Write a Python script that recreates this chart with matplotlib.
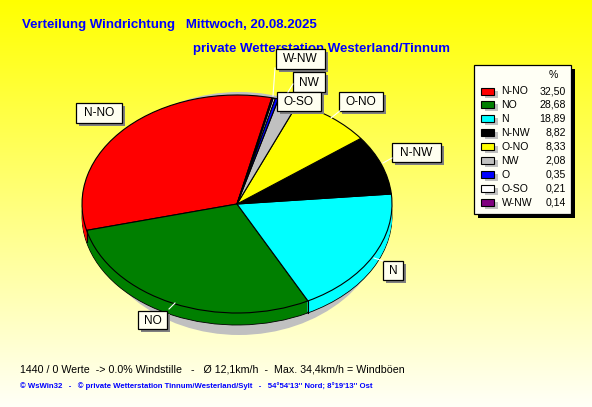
# coding: utf-8
""" wind direction pie, WsWin style """
import numpy as np
import matplotlib
matplotlib.use('Agg')
import matplotlib.pyplot as plt
from matplotlib.patches import Ellipse, Rectangle

plt.rcParams['font.family'] = ['Liberation Sans', 'DejaVu Sans']

directions = ['N-NO', 'NO', 'N', 'N-NW', 'O-NO', 'NW', 'O', 'O-SO', 'W-NW']
percent = [32.50, 28.68, 18.89, 8.82, 8.33, 2.08, 0.35, 0.21, 0.14]
value_labels = ['32,50', '28,68', '18,89', '8,82', '8,33', '2,08', '0,35', '0,21', '0,14']
colors = ['#ff0000', '#007f00', '#00ffff', '#000000', '#ffff00',
          '#c0c0c0', '#0000ff', '#ffffff', '#800080']

title_1 = 'Verteilung Windrichtung   Mittwoch, 20.08.2025'
title_2 = 'private Wetterstation Westerland/Tinnum'
info = '1440 / 0 Werte  -> 0.0% Windstille   -   Ø 12,1km/h  -  Max. 34,4km/h = Windböen'
footer = "© WsWin32   -   © private Wetterstation Tinnum/Westerland/Sylt   -   54°54'13'' Nord; 8°19'13'' Ost"

W, H = 592, 407
# pie ellipse in pixels
cx, cy, rx, ry = 237, 204, 155, 109
depth = 12
start = 77

fig = plt.figure(figsize=(W / 100, H / 100), dpi=100)

# background gradient + shadow
bg = fig.add_axes([0, 0, 1, 1])
grad = np.ones((H, 1, 3))
grad[:, 0, 2] = np.linspace(0, 0.97, H)
bg.imshow(grad, extent=(0, W, H, 0), aspect='auto', interpolation='bilinear')
bg.set_xlim(0, W)
bg.set_ylim(H, 0)
bg.axis('off')
bg.text(22, 25, title_1, color='#0000ff', fontsize=9.5, fontweight='bold', va='center')
bg.text(193, 49, title_2, color='#0000ff', fontsize=9.55, fontweight='bold', va='center')
bg.text(20, 369, info, color='black', fontsize=7.7, va='center')
bg.text(20, 386, footer, color='#0000ff', fontsize=5.55, fontweight='bold', va='center')
bg.add_patch(Ellipse((239, 213.5), 296, 243, fc='#c0c0c0', ec='none'))

# pie: unit circle is stretched to the ellipse through the axis limits
ax = fig.add_axes([0, 0, 1, 1], zorder=2)
ax.patch.set_alpha(0)
for k in range(depth, 0, -1):
    edge = 'black' if k == depth else 'none'
    ax.pie(percent, colors=colors, startangle=start, center=(0, -k / ry),
           wedgeprops={'edgecolor': edge, 'linewidth': 0.6})
ax.pie(percent, colors=colors, startangle=start,
       wedgeprops={'edgecolor': 'black', 'linewidth': 0.8})
ax.set_aspect('auto')
ax.set_xlim(-cx / rx, (W - cx) / rx)
ax.set_ylim((cy - H) / ry, cy / ry)

# vertical edges on the front side of the pie
ends = start + np.cumsum(percent) * 3.6
for a in ends:
    x, y = np.cos(np.radians(a)), np.sin(np.radians(a))
    if y < 0:
        ax.plot([x, x], [y, y - depth / ry], color='black', lw=0.8)

# labels, legend
top = fig.add_axes([0, 0, 1, 1], zorder=3)
top.patch.set_alpha(0)
top.set_xlim(0, W)
top.set_ylim(H, 0)
top.axis('off')

label_boxes = {
    'W-NW': (276, 49, 325, 69),
    'NW': (293, 72, 325, 92),
    'O-SO': (277, 92, 321, 111),
    'O-NO': (339, 92, 383, 111),
    'N-NW': (392, 143, 441, 162),
    'N-NO': (76, 103, 122, 123),
    'NO': (138, 311, 167, 329),
    'N': (383, 261, 403, 280),
}
leaders = {
    'W-NW': ((275, 68), (273, 96)),
    'NW': ((293, 84), (288, 92)),
    'O-NO': ((341, 110), (331, 118)),
    'N-NW': ((392, 158), (383, 163)),
    'NO': ((169, 309), (175, 303)),
    'N': ((383, 261), (374, 258)),
}

for name, (p0, p1) in leaders.items():
    top.plot([p0[0], p1[0]], [p0[1], p1[1]], color='white', lw=0.8)

for name, (x0, y0, x1, y1) in label_boxes.items():
    top.add_patch(Rectangle((x0 + 3, y0 + 3), x1 - x0, y1 - y0, fc='#808080', ec='none'))
    top.add_patch(Rectangle((x0, y0), x1 - x0, y1 - y0, fc='#fffff0', ec='black', lw=0.9))
    top.text((x0 + x1) / 2, (y0 + y1) / 2 + 0.5, name, fontsize=8.6, color='black',
             ha='center', va='center')

top.add_patch(Rectangle((478, 69), 97, 149, fc='black', ec='none'))
top.add_patch(Rectangle((474, 65), 97, 149, fc='#fffff5', ec='black', lw=0.9))
top.text(553, 75, '%', fontsize=7.6, ha='center', va='center')
for i, name in enumerate(directions):
    y = 91 + i * 13.97
    top.add_patch(Rectangle((485, y - 0.5), 13, 7, fc='#c0c0c0', ec='none'))
    top.add_patch(Rectangle((481, y - 3.5), 13, 7, fc=colors[i], ec='black', lw=0.8))
    top.text(501.5, y, name, fontsize=7.6, va='center')
    top.text(566, y, value_labels[i], fontsize=7.6, ha='right', va='center')

fig.savefig('out.png', dpi=100)
